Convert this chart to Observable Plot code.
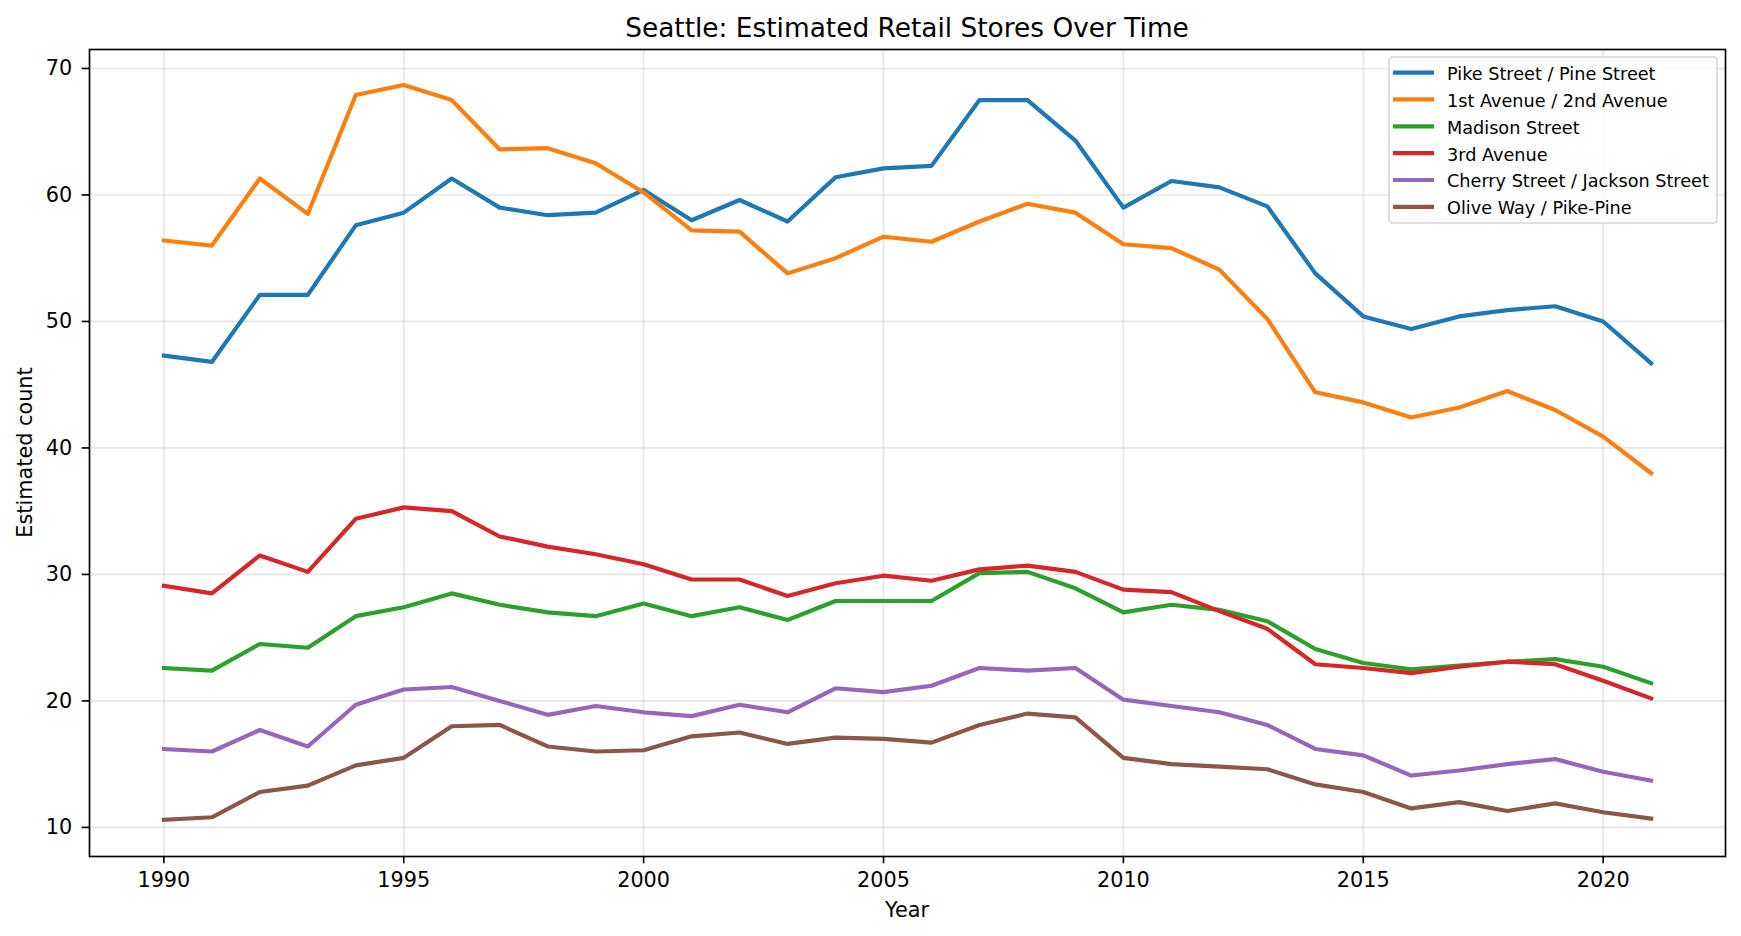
<!DOCTYPE html>
<html>
<head>
<meta charset="utf-8">
<script src="https://cdn.jsdelivr.net/npm/d3@7"></script>
<script src="https://cdn.jsdelivr.net/npm/@observablehq/plot@0.6"></script>
<style>
  html, body { margin: 0; padding: 0; background: white; }
  #chart { position: relative; width: 1741px; height: 936px; }
</style>
</head>
<body>
<div id="chart"></div>
<script>
const years = [1990,1991,1992,1993,1994,1995,1996,1997,1998,1999,2000,2001,2002,2003,2004,2005,2006,2007,2008,2009,2010,2011,2012,2013,2014,2015,2016,2017,2018,2019,2020,2021];

const seriesNames = [
  "Pike Street / Pine Street",
  "1st Avenue / 2nd Avenue",
  "Madison Street",
  "3rd Avenue",
  "Cherry Street / Jackson Street",
  "Olive Way / Pike-Pine"
];
const seriesColors = ["#1f77b4", "#ff7f0e", "#2ca02c", "#d62728", "#9467bd", "#8c564b"];

const pikePine = [47.3,46.8,52.1,52.1,57.6,58.6,61.3,59.0,58.4,58.6,60.4,58.0,59.6,57.9,61.4,62.1,62.3,67.5,67.5,64.3,59.0,61.1,60.6,59.1,53.8,50.4,49.4,50.4,50.9,51.2,50.0,46.7];
const firstSecond = [56.4,56.0,61.3,58.5,67.9,68.7,67.5,63.6,63.7,62.5,60.2,57.2,57.1,53.8,55.0,56.7,56.3,57.9,59.3,58.6,56.1,55.8,54.1,50.2,44.4,43.6,42.4,43.2,44.5,43.0,40.9,38.0];
const madison = [22.6,22.4,24.5,24.2,26.7,27.4,28.5,27.6,27.0,26.7,27.7,26.7,27.4,26.4,27.9,27.9,27.9,30.1,30.2,28.9,27.0,27.6,27.2,26.3,24.1,23.0,22.5,22.8,23.1,23.3,22.7,21.4];
const thirdAve = [29.1,28.5,31.5,30.2,34.4,35.3,35.0,33.0,32.2,31.6,30.8,29.6,29.6,28.3,29.3,29.9,29.5,30.4,30.7,30.2,28.8,28.6,27.1,25.7,22.9,22.6,22.2,22.7,23.1,22.9,21.6,20.2];
const cherryJackson = [16.2,16.0,17.7,16.4,19.7,20.9,21.1,20.0,18.9,19.6,19.1,18.8,19.7,19.1,21.0,20.7,21.2,22.6,22.4,22.6,20.1,19.6,19.1,18.1,16.2,15.7,14.1,14.5,15.0,15.4,14.4,13.7];
const oliveWay = [10.6,10.8,12.8,13.3,14.9,15.5,18.0,18.1,16.4,16.0,16.1,17.2,17.5,16.6,17.1,17.0,16.7,18.1,19.0,18.7,15.5,15.0,14.8,14.6,13.4,12.8,11.5,12.0,11.3,11.9,11.2,10.7];

const xTicks = [1990,1995,2000,2005,2010,2015,2020];
const yTicks = [10,20,30,40,50,60,70];

const title = "Seattle: Estimated Retail Stores Over Time";
const xLabel = "Year";
const yLabel = "Estimated count";

const seriesValues = [pikePine, firstSecond, madison, thirdAve, cherryJackson, oliveWay];
const rows = [];
seriesNames.forEach((name, i) => {
  years.forEach((yr, j) => rows.push({series: name, year: yr, value: seriesValues[i][j]}));
});

const W = 1741, H = 936;
const mL = 89, mR = 16, mT = 49, mB = 80;
const FONT = "DejaVu Sans";
const grid = {stroke: "#b0b0b0", strokeOpacity: 0.3, strokeWidth: 1.67};

const svg = Plot.plot({
  width: W, height: H,
  marginLeft: mL, marginRight: mR, marginTop: mT, marginBottom: mB,
  style: {fontFamily: FONT, fontSize: "20.8px", color: "black", background: "white", overflow: "visible"},
  x: {domain: [1988.45, 2022.55], label: null},
  y: {domain: [7.7, 71.5], label: null},
  color: {domain: seriesNames, range: seriesColors},
  marks: [
    Plot.gridX(xTicks, grid),
    Plot.gridY(yTicks, grid),
    Plot.lineY(rows, {x: "year", y: "value", z: "series", stroke: "series",
      strokeWidth: 4.17, strokeLinejoin: "round", strokeLinecap: "square"}),
    Plot.frame({stroke: "black", strokeWidth: 1.67}),
    Plot.axisX(xTicks, {tickSize: 7.3, tickPadding: 8.5, strokeWidth: 1.67, tickFormat: d => String(d), label: null}),
    Plot.axisY(yTicks, {tickSize: 7.3, tickPadding: 10, strokeWidth: 1.67, tickFormat: d => String(d), label: null})
  ]
});

document.getElementById("chart").appendChild(svg);

const s = d3.select(svg);
const extra = s.append("g").attr("font-family", FONT).attr("fill", "black");

// Title
extra.append("text")
  .attr("x", (mL + (W - mR)) / 2).attr("y", 36.5)
  .attr("text-anchor", "middle").attr("font-size", "26.4px")
  .text(title);

// Axis labels
extra.append("text")
  .attr("x", (mL + (W - mR)) / 2).attr("y", 917)
  .attr("text-anchor", "middle").attr("font-size", "20.8px")
  .text(xLabel);
extra.append("text")
  .attr("transform", `translate(32,${(mT + (H - mB)) / 2}) rotate(-90)`)
  .attr("text-anchor", "middle").attr("font-size", "20.8px")
  .text(yLabel);

// Legend
const lg = s.append("g").attr("font-family", FONT).attr("text-anchor", "start");
lg.append("rect")
  .attr("x", 1389).attr("y", 57).attr("width", 328).attr("height", 166)
  .attr("rx", 3.5).attr("ry", 3.5)
  .attr("fill", "white").attr("fill-opacity", 0.8)
  .attr("stroke", "#cccccc").attr("stroke-opacity", 0.8).attr("stroke-width", 1.67);
seriesNames.forEach((name, i) => {
  const cy = 72.6 + i * 26.85;
  lg.append("line")
    .attr("x1", 1395).attr("x2", 1432).attr("y1", cy).attr("y2", cy)
    .attr("stroke", seriesColors[i]).attr("stroke-width", 4.17).attr("stroke-linecap", "square");
  lg.append("text")
    .attr("x", 1447).attr("y", cy + 7.4)
    .attr("text-anchor", "start")
    .attr("font-size", "17.66px").attr("fill", "black")
    .text(name);
});
</script>
</body>
</html>
